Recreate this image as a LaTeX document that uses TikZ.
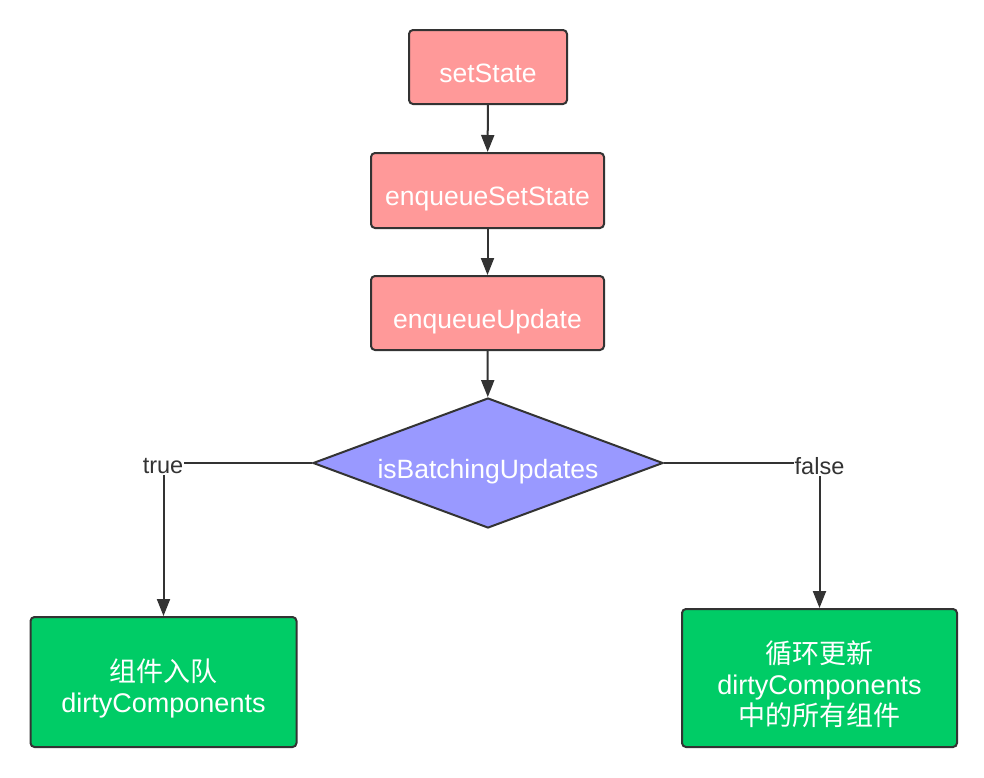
\documentclass[tikz,border=0pt]{standalone}
\usepackage{fontspec}
\setmainfont{Liberation Sans}
\newfontfamily\cjk{Noto Sans CJK SC}
\usetikzlibrary{shapes.geometric,arrows.meta}
\definecolor{pinkfill}{HTML}{FF9999}
\definecolor{bluefill}{HTML}{9999FF}
\definecolor{greenfill}{HTML}{00CC66}
\definecolor{edgecol}{HTML}{333333}
\begin{document}
\begin{tikzpicture}[x=1pt,y=-1pt,
  box/.style={draw=edgecol,line width=2pt,rounded corners=4pt,text=white,
    font=\fontsize{26.5}{30}\selectfont,inner sep=0pt,text height=30pt,text depth=0pt},
  pinkbox/.style={box,fill=pinkfill},
  greenbox/.style={draw=edgecol,line width=2pt,rounded corners=4pt,fill=greenfill,inner sep=0pt},
  gtext/.style={text=white,align=center,inner sep=0pt,font=\fontsize{27}{31}\selectfont},
  decision/.style={diamond,draw=edgecol,line width=2pt,fill=bluefill,text=white,
    inner sep=0pt,minimum width=350pt,minimum height=130pt,aspect=2.69,
    font=\fontsize{26.5}{30}\selectfont,text height=30pt,text depth=0pt},
  conn/.style={draw=edgecol,line width=2pt,-{Triangle[length=17pt,width=13pt]}},
  lbl/.style={fill=white,text=edgecol,inner sep=1pt,font=\fontsize{23.5}{27}\selectfont}
]
\useasboundingbox (0,0) rectangle (984,777);
\fill[white] (0,0) rectangle (984,777);

\node[pinkbox,minimum width=158pt,minimum height=74pt] (s1) at (488,67) {setState};
\node[pinkbox,minimum width=233pt,minimum height=75pt] (s2) at (487.5,190.5) {enqueueSetState};
\node[pinkbox,minimum width=233pt,minimum height=74pt] (s3) at (487.5,313) {enqueueUpdate};
\node[decision] (d) at (488,463) {isBatchingUpdates};
\node[greenbox,minimum width=266pt,minimum height=130pt] (g1) at (163.5,682) {};
\node[greenbox,minimum width=275pt,minimum height=138pt] (g2) at (819.5,678) {};
\node[gtext] (g1t) at ([yshift=-6pt]g1.center) {{\cjk 组件入队}\\dirtyComponents};
\node[gtext] (g2t) at ([yshift=-6pt]g2.center) {{\cjk 循环更新}\\dirtyComponents\\{\cjk 中的所有组件}};

\draw[conn] (s1) -- (s2);
\draw[conn] (s2) -- (s3);
\draw[conn] (s3) -- (d);
\draw[conn] (d.west) -| (g1.north);
\draw[conn] (d.east) -| (g2.north);

\node[lbl] (lt) at (163,466) {true};
\node[lbl] (lf) at (819.5,466) {false};
\end{tikzpicture}
\end{document}
